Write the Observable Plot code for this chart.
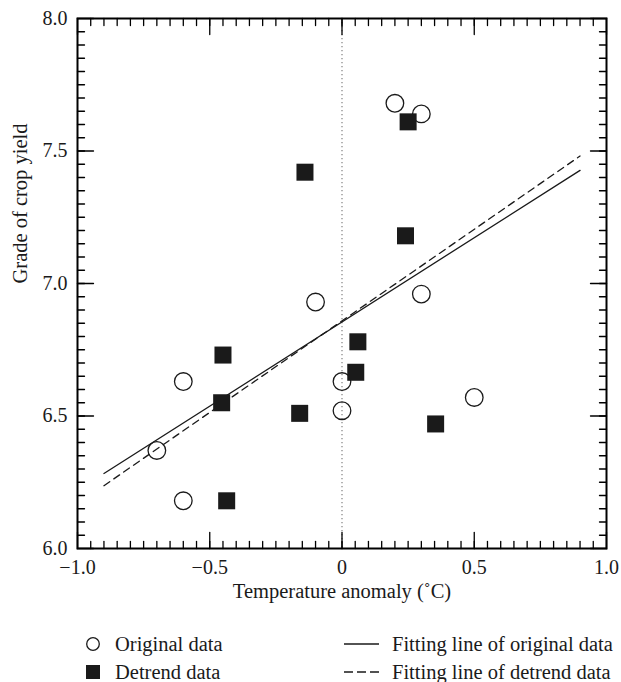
<!DOCTYPE html>
<html>
<head>
<meta charset="utf-8">
<script src="https://cdn.jsdelivr.net/npm/d3@7"></script>
<script src="https://cdn.jsdelivr.net/npm/@observablehq/plot@0.6"></script>
<style>
  html, body { margin: 0; padding: 0; background: #fff; }
  #wrap { position: relative; width: 621px; height: 682px; font-family: "Liberation Serif", serif; color: #1a1a1a; }
  .leg { position: absolute; font-size: 20.5px; line-height: 20px; white-space: nowrap; display: flex; align-items: center; }
  .leg svg { display: block; }
</style>
</head>
<body>
<div id="wrap"></div>
<script>
// ---- data ----
const originalX = [-0.6, -0.7, -0.6, -0.1, 0.3, 0.0, 0.0, 0.5, 0.2, 0.3];
const originalY = [6.63, 6.37, 6.18, 6.93, 6.96, 6.63, 6.52, 6.57, 7.68, 7.64];
const detrendX = [-0.14, 0.25, 0.24, -0.45, -0.455, -0.436, -0.16, 0.06, 0.052, 0.354];
const detrendY = [7.42, 7.61, 7.18, 6.73, 6.55, 6.18, 6.51, 6.78, 6.665, 6.47];
const fitX = [-0.9, 0.9];
const fitOriginalY = [6.283, 7.427];
const fitDetrendY = [6.237, 7.481];
const xTicks = [-1, -0.5, 0, 0.5, 1];
const xTickLabels = ["\u22121.0", "\u22120.5", "0", "0.5", "1.0"];
const yTicks = [6, 6.5, 7, 7.5, 8];
const yTickLabels = ["6.0", "6.5", "7.0", "7.5", "8.0"];
const xLabel = "Temperature anomaly (\u02DAC)";
const yLabel = "Grade of crop yield";
const legendPoints = ["Original data", "Detrend data"];
const legendLines = ["Fitting line of original data", "Fitting line of detrend data"];

// ---- derived tables ----
const original = originalX.map((x, i) => ({x, y: originalY[i]}));
const detrend = detrendX.map((x, i) => ({x, y: detrendY[i]}));
const fitO = fitX.map((x, i) => ({x, y: fitOriginalY[i]}));
const fitD = fitX.map((x, i) => ({x, y: fitDetrendY[i]}));
const xMinor = d3.range(1, 40).map(i => -1 + i * 0.05);
const yMinor = d3.range(1, 40).map(i => 6 + i * 0.05);
const xFmt = new Map(xTicks.map((t, i) => [t, xTickLabels[i]]));
const yFmt = new Map(yTicks.map((t, i) => [t, yTickLabels[i]]));

const ink = "#1a1a1a";
const FS = 20;
const W = 621, H = 620, ML = 77, MR = 15, MT = 18, MB = 72;
const xDom = [-1, 1], yDom = [6, 8];
// pixel -> data-unit conversion so tick lengths can be given in pixels
const pxX = (xDom[1] - xDom[0]) / (W - ML - MR);
const pxY = (yDom[1] - yDom[0]) / (H - MT - MB);
const minorLen = 7, majorLen = 16;

// inward tick segments on all four sides, drawn as short line pieces
const tickSegs = [];
function addX(values, len) {
  const d = len * pxY;
  values.forEach(v => {
    tickSegs.push({k: `b${v}${len}`, x: v, y: yDom[0]}, {k: `b${v}${len}`, x: v, y: yDom[0] + d});
    tickSegs.push({k: `t${v}${len}`, x: v, y: yDom[1]}, {k: `t${v}${len}`, x: v, y: yDom[1] - d});
  });
}
function addY(values, len) {
  const d = len * pxX;
  values.forEach(v => {
    tickSegs.push({k: `l${v}${len}`, y: v, x: xDom[0]}, {k: `l${v}${len}`, y: v, x: xDom[0] + d});
    tickSegs.push({k: `r${v}${len}`, y: v, x: xDom[1]}, {k: `r${v}${len}`, y: v, x: xDom[1] - d});
  });
}
addX(xMinor, minorLen); addX(xTicks, majorLen);
addY(yMinor, minorLen); addY(yTicks, majorLen);

const chart = Plot.plot({
  width: W,
  height: H,
  marginLeft: ML,
  marginRight: MR,
  marginTop: MT,
  marginBottom: MB,
  style: {fontFamily: "Liberation Serif, serif", fontSize: FS + "px", background: "#fff"},
  x: {domain: xDom, axis: null},
  y: {domain: yDom, axis: null},
  marks: [
    // zero reference
    Plot.ruleX([0], {stroke: "#808080", strokeWidth: 1.2, strokeDasharray: "1.2,2.8"}),
    // fitted lines
    Plot.line(fitO, {x: "x", y: "y", stroke: ink, strokeWidth: 1.3}),
    Plot.line(fitD, {x: "x", y: "y", stroke: ink, strokeWidth: 1.3, strokeDasharray: "7,5"}),
    // points
    Plot.dot(original, {x: "x", y: "y", r: 8.8, stroke: ink, strokeWidth: 1.3, fill: "none"}),
    Plot.dot(detrend, {x: "x", y: "y", r: 9.6, symbol: "square", fill: ink, stroke: "none"}),
    // frame
    Plot.frame({stroke: "#000", strokeWidth: 2}),
    // inward ticks
    Plot.line(tickSegs, {x: "x", y: "y", z: "k", stroke: "#000", strokeWidth: 1.3}),
    // tick labels
    Plot.axisX(xTicks, {anchor: "bottom", tickSize: 0, tickPadding: 11, tickFormat: d => xFmt.get(d), fontSize: FS, fill: ink, label: null}),
    Plot.axisY(yTicks, {anchor: "left", tickSize: 0, tickPadding: 10, tickFormat: d => yFmt.get(d), fontSize: FS, fill: ink, label: null}),
    // axis titles
    Plot.text([xLabel], {frameAnchor: "bottom", text: d => d, dy: 49, fontSize: 20.5, fill: ink}),
    Plot.text([yLabel], {frameAnchor: "left", text: d => d, rotate: -90, dx: -57, fontSize: 20.5, fill: ink})
  ]
});

const wrap = document.getElementById("wrap");
wrap.appendChild(chart);

// legend (HTML, below the SVG)
function legendItem(left, top, iconSvg, label) {
  const d = document.createElement("div");
  d.className = "leg";
  d.style.left = left + "px";
  d.style.top = top + "px";
  d.innerHTML = iconSvg + `<span>${label}</span>`;
  wrap.appendChild(d);
}
const circleIcon = `<svg width="31" height="20"><circle cx="9" cy="10" r="6.3" fill="none" stroke="${ink}" stroke-width="1.3"/></svg>`;
const squareIcon = `<svg width="31" height="20"><rect x="2" y="3" width="14" height="14" fill="${ink}"/></svg>`;
const solidIcon = `<svg width="48" height="20"><line x1="0" y1="10" x2="35" y2="10" stroke="${ink}" stroke-width="1.3"/></svg>`;
const dashIcon = `<svg width="48" height="20"><line x1="0" y1="10" x2="35" y2="10" stroke="${ink}" stroke-width="1.3" stroke-dasharray="9,4"/></svg>`;
legendItem(84, 634, circleIcon, legendPoints[0]);
legendItem(84, 662, squareIcon, legendPoints[1]);
legendItem(344, 634, solidIcon, legendLines[0]);
legendItem(344, 662, dashIcon, legendLines[1]);
</script>
</body>
</html>
